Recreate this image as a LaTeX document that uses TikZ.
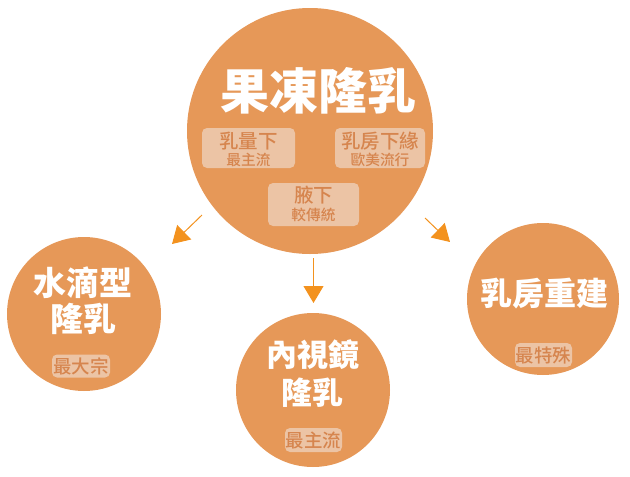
\documentclass[tikz,border=0pt]{standalone}
\usepackage{fontspec}
\usetikzlibrary{arrows.meta}
\newfontfamily\cjk{Noto Sans CJK TC}
\newfontfamily\cjkm{Noto Sans CJK TC Medium}
\definecolor{bubfill}{HTML}{E69858}
\definecolor{tagfill}{HTML}{ECC4A5}
\definecolor{tagtext}{HTML}{D6854E}
\definecolor{arrcol}{HTML}{F3921E}
\newcommand{\fs}[1]{\fontsize{#1}{#1}\selectfont}
\begin{document}
\begin{tikzpicture}[x=1pt,y=-1pt,
  bub/.style={circle, fill=bubfill, draw=none, inner sep=0pt},
  tagbox/.style={fill=tagfill, draw=none, rounded corners=5pt, inner sep=0pt},
  head/.style={text=white, inner sep=0pt, font=\cjk\bfseries},
  sub/.style={text=tagtext, inner sep=0pt, font=\cjkm},
  arr/.style={draw=arrcol, line width=1pt, -{Triangle[width=20pt,length=17pt]}}]
\useasboundingbox (0,0) rectangle (630,477);
% circles
\node[bub, minimum size=246pt] (main) at (310,131) {};
\node[bub, minimum size=154pt] (left) at (84,314) {};
\node[bub, minimum size=154pt] (bottom) at (313,390) {};
\node[bub, minimum size=152pt] (right) at (543,299) {};
% main texts
\node[head, font=\cjk\bfseries\fs{49}] (t0) at (318,91) {果凍隆乳};
\node[tagbox, minimum width=93pt, minimum height=40pt] (b1) at (248.5,148) {};
\node[sub, font=\cjkm\fs{19.5}] (b1a) at (248.5,141.5) {乳量下};
\node[sub, font=\cjkm\fs{14.7}] (b1b) at (248.5,159.5) {最主流};
\node[tagbox, minimum width=90pt, minimum height=40pt] (b2) at (380,148) {};
\node[sub, font=\cjkm\fs{19.5}] (b2a) at (380,141.5) {乳房下緣};
\node[sub, font=\cjkm\fs{14.7}] (b2b) at (380,159.5) {歐美流行};
\node[tagbox, minimum width=91pt, minimum height=43pt] (b3) at (313.5,204.5) {};
\node[sub, font=\cjkm\fs{19.5}] (b3a) at (313.5,195) {腋下};
\node[sub, font=\cjkm\fs{14.7}] (b3b) at (313.5,214.5) {較傳統};
% left
\node[head, font=\cjk\bfseries\fs{33}] (l1) at (83.5,282.5) {水滴型};
\node[head, font=\cjk\bfseries\fs{33}] (l2) at (83.5,318.5) {隆乳};
\node[tagbox, minimum width=58pt, minimum height=23pt] (lt) at (81,366) {};
\node[sub, font=\cjkm\fs{18.5}] (ltt) at (81,366) {最大宗};
% bottom
\node[head, font=\cjk\bfseries\fs{31}] (m1) at (312.5,355) {內視鏡};
\node[head, font=\cjk\bfseries\fs{31}] (m2) at (312.5,392.5) {隆乳};
\node[tagbox, minimum width=57pt, minimum height=24pt] (mt) at (313.5,440) {};
\node[sub, font=\cjkm\fs{18.5}] (mtt) at (313.5,440) {最主流};
% right
\node[head, font=\cjk\bfseries\fs{32}] (r1) at (544.5,294) {乳房重建};
\node[tagbox, minimum width=57pt, minimum height=24pt] (rt) at (543.5,355) {};
\node[sub, font=\cjkm\fs{18.5}] (rtt) at (543.5,355) {最特殊};
% arrows
\coordinate (a1s) at (202,215);
\coordinate (a1e) at (172,244);
\coordinate (a2s) at (313.5,258);
\coordinate (a2e) at (313.5,303);
\coordinate (a3s) at (425,218);
\coordinate (a3e) at (450,242);
\draw[arr] (a1s) -- (a1e);
\draw[arr] (a2s) -- (a2e);
\draw[arr] (a3s) -- (a3e);
\end{tikzpicture}
\end{document}
